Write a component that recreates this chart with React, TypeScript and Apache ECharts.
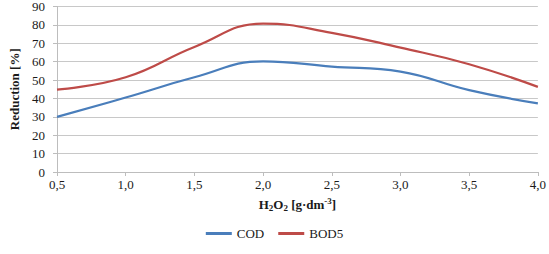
import React, { useEffect, useRef } from "react";
import * as echarts from "echarts";

const doses = [0.5, 1.0, 1.5, 2.0, 2.5, 3.0, 3.5, 4.0];
const codReduction = [30, 40.5, 51.5, 60.2, 57.3, 54.6, 44.5, 37.3];
const bod5Reduction = [44.8, 51.5, 68, 80.7, 75.7, 67.6, 58.6, 46.3];
const yTicks = { min: 0, max: 90, interval: 10 };

const FONT = "Liberation Serif";
const INK = "#1a1a1a";

export default function App() {
  const ref = useRef<HTMLDivElement>(null);

  useEffect(() => {
    if (!ref.current) return;
    const chart = echarts.init(ref.current, undefined, { renderer: "svg" });
    const pair = (xs: number[], ys: number[]) => xs.map((x, i) => [x, ys[i]]);
    chart.setOption({
      animation: false,
      textStyle: { fontFamily: "serif" },
      grid: { left: 50, right: 8, top: 6, bottom: 82 },
      legend: {
        bottom: 9,
        left: "center",
        icon: "rect",
        itemWidth: 26,
        itemHeight: 3,
        itemGap: 14,
        textStyle: { fontFamily: "Times New Roman", fontSize: 13, color: INK, fontWeight: "normal" },
        data: ["COD", "BOD5"],
      },
      xAxis: {
        type: "value",
        min: 0.5,
        max: 4.0,
        interval: 0.5,
        axisLine: { lineStyle: { color: "#bdbdbd" } },
        axisTick: { show: true, length: 4, lineStyle: { color: "#bdbdbd" } },
        splitLine: { show: false },
        axisLabel: {
          fontFamily: "serif",
          fontSize: 13,
          color: INK,
          margin: 6,
          formatter: (v: number) => v.toFixed(1).replace(".", ","),
        },
        name: "{b|H}{s|2}{b|O}{s|2}{b| [g·dm}{p|-3}{b|]}",
        nameLocation: "middle",
        nameGap: 22,
        nameTextStyle: {
          rich: {
            b: { fontFamily: FONT, fontSize: 13, fontWeight: "bold", color: INK, lineHeight: 18 },
            s: { fontFamily: FONT, fontSize: 9, fontWeight: "bold", color: INK, padding: [8, 0, 0, 0], lineHeight: 18 },
            p: { fontFamily: FONT, fontSize: 9, fontWeight: "bold", color: INK, padding: [0, 0, 6, 0], lineHeight: 18 },
          },
        },
      },
      yAxis: {
        type: "value",
        min: yTicks.min,
        max: yTicks.max,
        interval: yTicks.interval,
        axisLine: { show: true, lineStyle: { color: "#bdbdbd" } },
        axisTick: { show: true, length: 4, lineStyle: { color: "#bdbdbd" } },
        splitLine: { lineStyle: { color: "#c8c8c8", width: 1 } },
        axisLabel: { fontFamily: "Times New Roman", fontSize: 13, color: INK, margin: 12 },
        name: "Reduction [%]",
        nameLocation: "middle",
        nameGap: 36,
        nameTextStyle: { fontFamily: FONT, fontSize: 13, fontWeight: "bold", color: INK },
      },
      series: [
        {
          name: "COD",
          type: "line",
          data: pair(doses, codReduction),
          smooth: 0.45,
          showSymbol: false,
          lineStyle: { color: "#4a7ebb", width: 2.2 },
          itemStyle: { color: "#4a7ebb" },
        },
        {
          name: "BOD5",
          type: "line",
          data: pair(doses, bod5Reduction),
          smooth: 0.45,
          showSymbol: false,
          lineStyle: { color: "#be4b48", width: 2.2 },
          itemStyle: { color: "#be4b48" },
        },
      ],
    });
    return () => chart.dispose();
  }, []);

  return <div ref={ref} style={{ width: 549, height: 254, position: "absolute", left: 0, top: 0 }} />;
}
